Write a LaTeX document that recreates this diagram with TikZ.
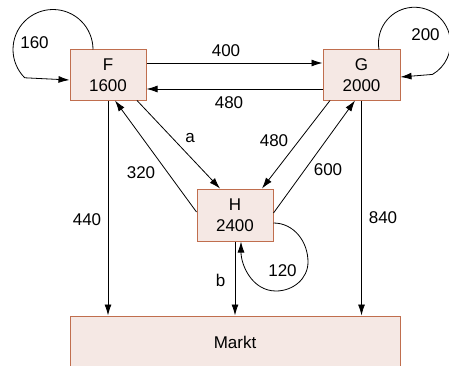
\documentclass[tikz,border=0pt]{standalone}
\usepackage{fontspec}
\setmainfont{Liberation Sans}
\usetikzlibrary{arrows.meta}
\definecolor{boxfill}{RGB}{245,232,228}
\definecolor{boxdraw}{RGB}{192,110,78}
\tikzset{
  box/.style={draw=boxdraw, fill=boxfill, line width=1pt, minimum width=76pt, minimum height=50pt, align=center, inner sep=0pt, font=\fontsize{17}{21}\selectfont},
  lbl/.style={inner sep=0pt, font=\fontsize{17}{19}\selectfont},
  arr/.style={draw, line width=0.8pt, -{Latex[length=11pt,width=7pt]}},
}
\begin{document}
\begin{tikzpicture}[x=1pt,y=1pt]
\useasboundingbox (0,0) rectangle (449,365);
\begin{scope}
\clip (0,0) rectangle (449,365);
\node[box] (F) at (108,290) {F\\1600};
\node[box, minimum width=77pt] (G) at (361.5,290) {G\\2000};
\node[box, minimum height=52pt] (H) at (235,150) {H\\2400};
\node[box, minimum width=330pt, minimum height=59pt] (M) at (235,19.5) {};
\node[lbl] (Mt) at (235,23) {Markt};
\end{scope}
% top horizontals
\draw[arr] ([yshift=12pt]F.east) -- ([yshift=12pt]G.west);
\draw[arr] ([yshift=-14pt]G.west) -- ([yshift=-14pt]F.east);
% self loops
\draw[arr] ([xshift=-15pt]F.north) arc[start angle=0, end angle=225, radius=40] -- ([yshift=-5pt]F.west);
\draw[arr] ([xshift=17.5pt]G.north) arc[start angle=190, end angle=-60, radius=36] -- ([yshift=-2pt]G.east);
\draw[arr] ([yshift=-8pt]H.east) to[out=0,in=90] (308,103) to[out=-90,in=0] (276,74) to[out=180,in=-90] ([xshift=6pt]H.south);
% diagonals
\draw[arr] ([xshift=29pt]F.south) -- ([xshift=-15pt]H.north);
\draw[arr] ([yshift=3pt]H.west) -- ([xshift=7pt]F.south);
\draw[arr] ([xshift=-31.5pt]G.south) -- ([xshift=27pt]H.north);
\draw[arr] ([yshift=2pt]H.east) -- ([xshift=-6.5pt]G.south);
% verticals
\draw[arr] (F.south) -- (F.south |- M.north);
\draw[arr] (H.south) -- (M.north);
\draw[arr] (G.south) -- (G.south |- M.north);
% labels
\node[lbl] (l400) at (226,314) {400};
\node[lbl] (l480a) at (229,262) {480};
\node[lbl] (l160) at (34.5,322) {160};
\node[lbl] (l200) at (425.5,330) {200};
\node[lbl] (l120) at (282.5,94) {120};
\node[lbl] (lb) at (220.5,85) {b};
\node[lbl] (la) at (190,227) {a};
\node[lbl] (l320) at (141,192) {320};
\node[lbl] (l480b) at (274,224) {480};
\node[lbl] (l600) at (328,195) {600};
\node[lbl] (l440) at (87,145) {440};
\node[lbl] (l840) at (383,147) {840};
\end{tikzpicture}
\end{document}
